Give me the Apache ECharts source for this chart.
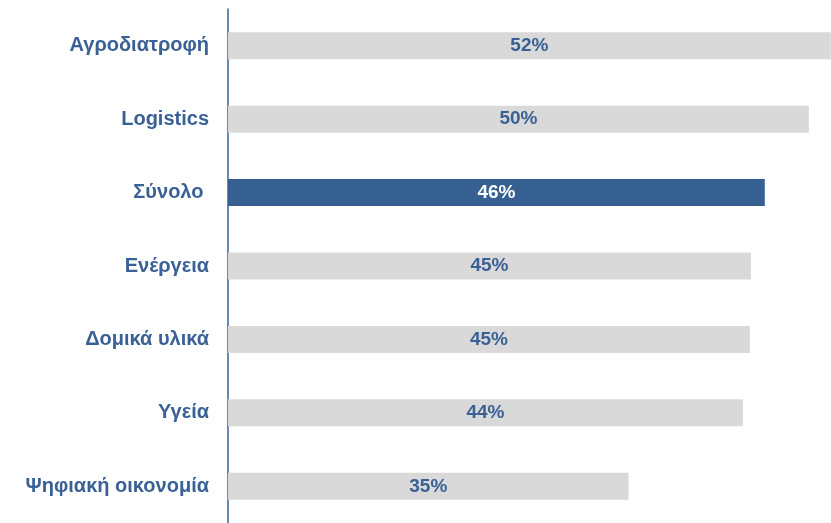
<!DOCTYPE html>
<html>
<head>
<meta charset="utf-8">
<script src="https://cdn.jsdelivr.net/npm/echarts@6/dist/echarts.min.js"></script>
<style>
	html, body { margin: 0; padding: 0; background: #fff; }
	#chart { width: 831px; height: 523px; }
</style>
</head>
<body>
<div id="chart"></div>
<script>
// κατηγορίες και τιμές (%)
const categories = ['Αγροδιατροφή', 'Logistics', 'Σύνολο ', 'Ενέργεια', 'Δομικά υλικά', 'Υγεία', 'Ψηφιακή οικονομία']
const values = [51.98, 50.09, 46.29, 45.09, 45.0, 44.4, 34.54]
const highlight = 'Σύνολο '

const blue = '#376092'
const grey = '#d9d9d9'
const textBlue = '#3a6196'

let chart = echarts.init(document.getElementById('chart'))

let data = values.map((v, i) => {
	let isTotal = categories[i] === highlight
	return {
		value: v,
		itemStyle: { color: isTotal ? blue : grey },
		label: { color: isTotal ? '#ffffff' : textBlue },
	}
})

let option = {
	animation: false,
	grid: {
		left: 228,
		right: 0,
		top: 9,
		height: 517.5,
		containLabel: false,
	},
	xAxis: {
		type: 'value',
		min: 0,
		max: 52,
		show: false,
	},
	yAxis: {
		type: 'category',
		inverse: true,
		data: categories,
		axisLine: {
			show: true,
			lineStyle: { color: textBlue, width: 1.5 },
		},
		axisTick: { show: false },
		axisLabel: {
			margin: 19,
			color: textBlue,
			fontFamily: 'Liberation Sans, Arial, sans-serif',
			fontWeight: 'bold',
			fontSize: 20,
		},
	},
	series: [
		{
			type: 'bar',
			data: data,
			barWidth: 27,
			label: {
				show: true,
				position: 'inside',
				fontFamily: 'Liberation Sans, Arial, sans-serif',
				fontWeight: 'bold',
				fontSize: 19,
				formatter: (p) => Math.round(p.value) + '%',
			},
		},
	],
}
chart.setOption(option)
</script>
</body>
</html>
